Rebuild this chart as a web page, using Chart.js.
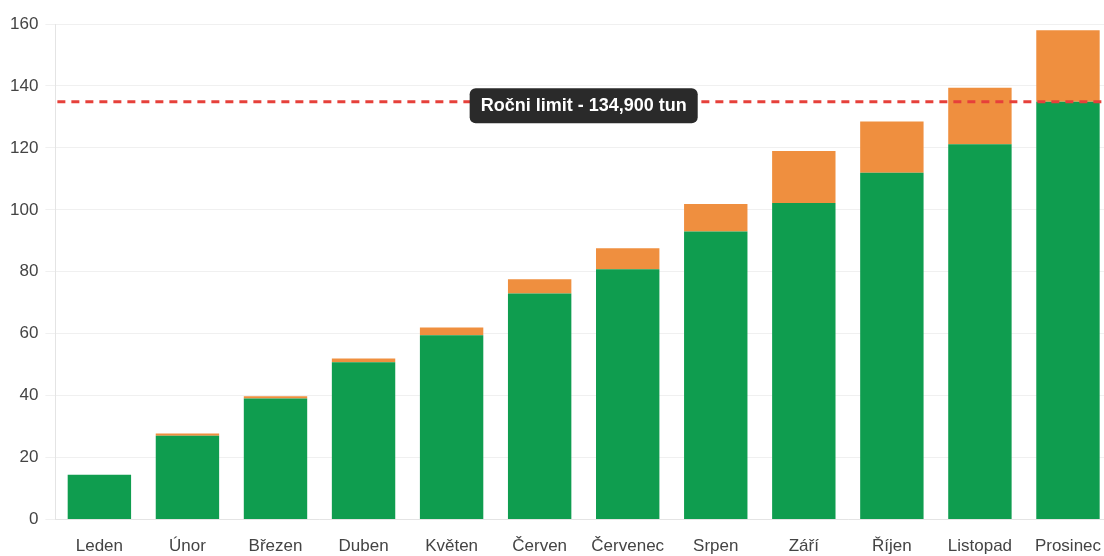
<!DOCTYPE html>
<html lang="cs">
<head>
<meta charset="UTF-8">
<title>Roční limit</title>
<script src="https://cdn.jsdelivr.net/npm/chart.js@4.4.1/dist/chart.umd.min.js"></script>
<style>
  html, body {
    margin: 0;
    padding: 0;
    background: #ffffff;
    overflow: hidden;
  }
  .chart-box {
    position: relative;
    width: 1112px;
    height: 570px;
  }
</style>
</head>
<body>
<div class="chart-box">
  <canvas id="limitChart"></canvas>
</div>
<script>
// data
const months = [
  "Leden", "Únor", "Březen", "Duben", "Květen", "Červen",
  "Červenec", "Srpen", "Září", "Říjen", "Listopad", "Prosinec",
];
const baseValues = [14.5, 27.1, 39.1, 50.8, 59.5, 73.0, 80.8, 93.0, 102.2, 112.0, 121.2, 134.9];
const extraValues = [0, 0.7, 0.7, 1.2, 2.5, 4.6, 6.8, 8.9, 16.8, 16.5, 18.2, 23.1];
const yTicks = [0, 20, 40, 60, 80, 100, 120, 140, 160];
const yearLimit = 134.9;
const limitText = "Ročni limit - 134,900 tun";

const fontFamily = "'Liberation Sans', Arial, sans-serif";

// limit line + label
const limitLine = {
  id: "limitLine",
  afterDatasetsDraw(chart) {
    const { ctx, chartArea } = chart;
    const y = chart.scales.y.getPixelForValue(yearLimit);

    ctx.save();
    ctx.strokeStyle = "#e6403a";
    ctx.lineWidth = 3;
    ctx.setLineDash([8, 6]);
    ctx.beginPath();
    ctx.moveTo(chartArea.left + 2, y);
    ctx.lineTo(chartArea.right, y);
    ctx.stroke();

    ctx.setLineDash([]);
    ctx.font = "bold 18px " + fontFamily;
    const w = ctx.measureText(limitText).width + 22;
    const h = 35;
    const x = (chartArea.left + chartArea.right) / 2 - w / 2;
    ctx.fillStyle = "#2a2a2a";
    ctx.beginPath();
    ctx.roundRect(x, y - h / 2 + 4, w, h, 6);
    ctx.fill();
    ctx.fillStyle = "#ffffff";
    ctx.textAlign = "center";
    ctx.textBaseline = "middle";
    ctx.fillText(limitText, x + w / 2, y + 4);
    ctx.restore();
  },
};

const ctx = document.getElementById("limitChart").getContext("2d");

const limitChart = new Chart(ctx, {
  type: "bar",
  data: {
    labels: months,
    datasets: [
      {
        label: "Základ",
        data: baseValues,
        backgroundColor: "#0f9d4f",
      },
      {
        label: "Navíc",
        data: extraValues,
        backgroundColor: "#ef8f3f",
      },
    ],
  },
  options: {
    responsive: true,
    maintainAspectRatio: false,
    animation: false,
    layout: {
      padding: { top: 24, left: 3, right: 0, bottom: 4 },
    },
    scales: {
      x: {
        stacked: true,
        grid: {
          display: false,
        },
        border: {
          color: "#e4e4e4",
        },
        ticks: {
          color: "#444",
          padding: 9,
          font: {
            size: 17,
            family: fontFamily,
          },
        },
      },
      y: {
        stacked: true,
        min: 0,
        max: 160,
        afterBuildTicks(axis) {
          axis.ticks = yTicks.map((v) => ({ value: v }));
        },
        grid: {
          color: "rgba(0,0,0,0.06)",
          tickLength: 10,
        },
        border: {
          color: "#e4e4e4",
        },
        ticks: {
          color: "#444",
          padding: 7,
          font: {
            size: 17,
            family: fontFamily,
          },
        },
      },
    },
    plugins: {
      legend: {
        display: false,
      },
      tooltip: {
        enabled: false,
      },
    },
  },
  plugins: [limitLine],
});
</script>
</body>
</html>
